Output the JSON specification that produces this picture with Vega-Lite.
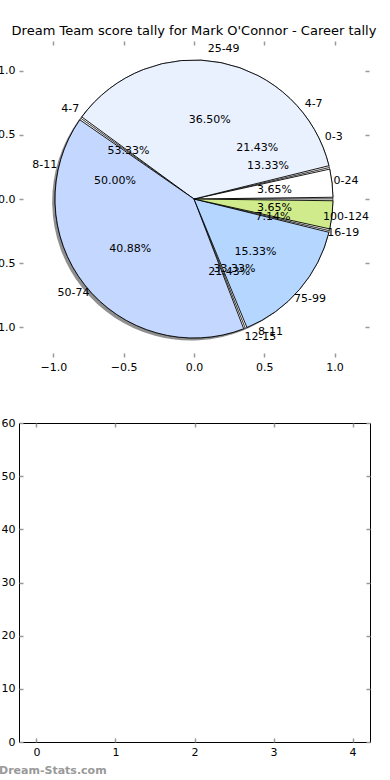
{
  "$schema": "https://vega.github.io/schema/vega-lite/v6.json",
  "padding": {"left": -12, "top": 25, "right": 0, "bottom": 0},
  "config": {
    "font": "DejaVu Sans",
    "view": {"stroke": null},
    "axis": {"labelFont": "DejaVu Sans", "labelFontSize": 11, "labelColor": "#000", "domain": false, "grid": false, "tickColor": "#999999", "tickSize": -4, "tickWidth": 1.5, "title": null, "labelPadding": 8}
  },
  "datasets": {
    "pie": [
      {"pie": "A", "idx": 0, "label": "0-24", "count": 5, "share": 0.0365},
      {"pie": "A", "idx": 1, "label": "25-49", "count": 50, "share": 0.365},
      {"pie": "A", "idx": 2, "label": "50-74", "count": 56, "share": 0.4088},
      {"pie": "A", "idx": 3, "label": "75-99", "count": 21, "share": 0.1533},
      {"pie": "A", "idx": 4, "label": "100-124", "count": 5, "share": 0.0365},
      {"pie": "B", "idx": 0, "label": "4-7", "count": 3, "share": 0.2143},
      {"pie": "B", "idx": 1, "label": "8-11", "count": 7, "share": 0.5},
      {"pie": "B", "idx": 2, "label": "12-15", "count": 3, "share": 0.2143},
      {"pie": "B", "idx": 3, "label": "16-19", "count": 1, "share": 0.0714},
      {"pie": "C", "idx": 0, "label": "0-3", "count": 2, "share": 0.1333},
      {"pie": "C", "idx": 1, "label": "4-7", "count": 8, "share": 0.5333},
      {"pie": "C", "idx": 2, "label": "8-11", "count": 5, "share": 0.3333}
    ],
    "hist": [
      {"bin": 0, "value": 0},
      {"bin": 1, "value": 0},
      {"bin": 2, "value": 0},
      {"bin": 3, "value": 0},
      {"bin": 4, "value": 0}
    ]
  },
  "bounds": "flush",
  "spacing": 66,
  "vconcat": [
    {
      "width": 350,
      "height": 316,
      "title": {"text": "Dream Team score tally for Mark O'Connor - Career tally", "fontSize": 13, "fontWeight": "normal", "offset": 2, "anchor": "middle", "frame": "group", "color": "#000"},
      "data": {"name": "pie"},
      "layer": [
        {
          "mark": {"type": "point", "opacity": 0},
          "encoding": {
            "x": {"datum": 0, "type": "quantitative", "scale": {"domain": [-1.245, 1.245], "nice": false, "zero": false}, "axis": {"orient": "bottom", "values": [-1, -0.5, 0, 0.5, 1], "format": ".1f", "tickColor": "#999999"}},
            "y": {"datum": 0, "type": "quantitative", "scale": {"domain": [-1.234, 1.234], "nice": false, "zero": false}, "axis": {"orient": "left", "values": [-1, -0.5, 0, 0.5, 1], "format": ".1f", "tickColor": "#999999"}}
          }
        },
        {
          "mark": {"type": "point", "opacity": 0},
          "encoding": {
            "x": {"datum": 0, "type": "quantitative", "axis": {"orient": "top", "labels": false, "values": [-1, -0.5, 0, 0.5, 1], "tickColor": "#999999"}},
            "y": {"datum": 0, "type": "quantitative", "axis": {"orient": "right", "labels": false, "values": [-1, -0.5, 0, 0.5, 1], "tickColor": "#999999"}}
          }
        },
        {
          "transform": [{"filter": "datum.pie == 'A'"}],
          "mark": {"type": "arc", "outerRadius": 139, "fill": "#333", "opacity": 0.55},
          "encoding": {
            "x": {"datum": -0.02, "type": "quantitative", "axis": null},
            "y": {"datum": -0.02, "type": "quantitative", "axis": null},
            "theta": {"field": "count", "type": "quantitative", "stack": "normalize", "scale": {"range": [1.5708, -4.7124]}},
            "order": {"field": "idx"}
          }
        },
        {
          "transform": [{"filter": "datum.pie == 'A'"}],
          "mark": {"type": "arc", "outerRadius": 139, "fill": "#ffffff", "stroke": "#000", "strokeWidth": 0.6},
          "encoding": {
            "theta": {"field": "count", "type": "quantitative", "stack": "normalize"},
            "order": {"field": "idx"}
          }
        },
        {
          "transform": [{"filter": "datum.pie == 'A'"}],
          "mark": {"type": "arc", "outerRadius": 139, "stroke": "#000", "strokeWidth": 0.9, "padAngle": 0.025},
          "encoding": {
            "theta": {"field": "count", "type": "quantitative", "stack": "normalize"},
            "order": {"field": "idx"},
            "color": {"field": "label", "type": "nominal", "legend": null, "scale": {"domain": ["0-24", "25-49", "50-74", "75-99", "100-124"], "range": ["#ffffff", "#e9f1ff", "#c4d8ff", "#b4d6ff", "#cfeb8b"]}}
          }
        },
        {
          "transform": [{"filter": "datum.pie == 'A'"}],
          "mark": {"type": "text", "radius": 153, "fontSize": 11, "color": "#000"},
          "encoding": {
            "theta": {"field": "count", "type": "quantitative", "stack": "normalize"},
            "order": {"field": "idx"},
            "text": {"field": "label"}
          }
        },
        {
          "transform": [{"filter": "datum.pie == 'A'"}],
          "mark": {"type": "text", "radius": 81, "fontSize": 11, "color": "#000"},
          "encoding": {
            "theta": {"field": "count", "type": "quantitative", "stack": "normalize"},
            "order": {"field": "idx"},
            "text": {"field": "share", "format": ".2%"}
          }
        },
        {
          "transform": [{"filter": "datum.pie == 'B'"}],
          "mark": {"type": "text", "radius": 153, "fontSize": 11, "color": "#000"},
          "encoding": {
            "theta": {"field": "count", "type": "quantitative", "stack": "normalize"},
            "order": {"field": "idx"},
            "text": {"field": "label"}
          }
        },
        {
          "transform": [{"filter": "datum.pie == 'B'"}],
          "mark": {"type": "text", "radius": 81, "fontSize": 11, "color": "#000"},
          "encoding": {
            "theta": {"field": "count", "type": "quantitative", "stack": "normalize"},
            "order": {"field": "idx"},
            "text": {"field": "share", "format": ".2%"}
          }
        },
        {
          "transform": [{"filter": "datum.pie == 'C'"}],
          "mark": {"type": "text", "radius": 153, "fontSize": 11, "color": "#000"},
          "encoding": {
            "theta": {"field": "count", "type": "quantitative", "stack": "normalize"},
            "order": {"field": "idx"},
            "text": {"field": "label"}
          }
        },
        {
          "transform": [{"filter": "datum.pie == 'C'"}],
          "mark": {"type": "text", "radius": 81, "fontSize": 11, "color": "#000"},
          "encoding": {
            "theta": {"field": "count", "type": "quantitative", "stack": "normalize"},
            "order": {"field": "idx"},
            "text": {"field": "share", "format": ".2%"}
          }
        }
      ],
      "resolve": {"axis": {"x": "independent", "y": "independent"}}
    },
    {
      "width": 351,
      "height": 319,
      "data": {"name": "hist"},
      "view": {"stroke": "#000", "strokeWidth": 1},
      "title": {"text": "Dream-Stats.com", "orient": "bottom", "anchor": "start", "frame": "bounds", "dx": -2, "offset": 8, "fontSize": 11, "fontWeight": "bold", "color": "#999"},
      "layer": [
        {
          "mark": {"type": "point", "opacity": 0},
          "encoding": {
            "x": {"field": "bin", "type": "quantitative", "scale": {"domain": [-0.22, 4.22], "nice": false, "zero": false}, "axis": {"orient": "bottom", "values": [0, 1, 2, 3, 4], "format": "d", "tickColor": "#999999"}},
            "y": {"field": "value", "type": "quantitative", "scale": {"domain": [0, 60], "nice": false}, "axis": {"orient": "left", "values": [0, 10, 20, 30, 40, 50, 60], "format": "d", "tickColor": "#999999"}}
          }
        },
        {
          "mark": {"type": "point", "opacity": 0},
          "encoding": {
            "x": {"field": "bin", "type": "quantitative", "axis": {"orient": "top", "labels": false, "values": [0, 1, 2, 3, 4], "tickColor": "#999999"}},
            "y": {"field": "value", "type": "quantitative", "axis": {"orient": "right", "labels": false, "values": [0, 10, 20, 30, 40, 50, 60], "tickColor": "#999999"}}
          }
        }
      ],
      "resolve": {"axis": {"x": "independent", "y": "independent"}}
    }
  ]
}
